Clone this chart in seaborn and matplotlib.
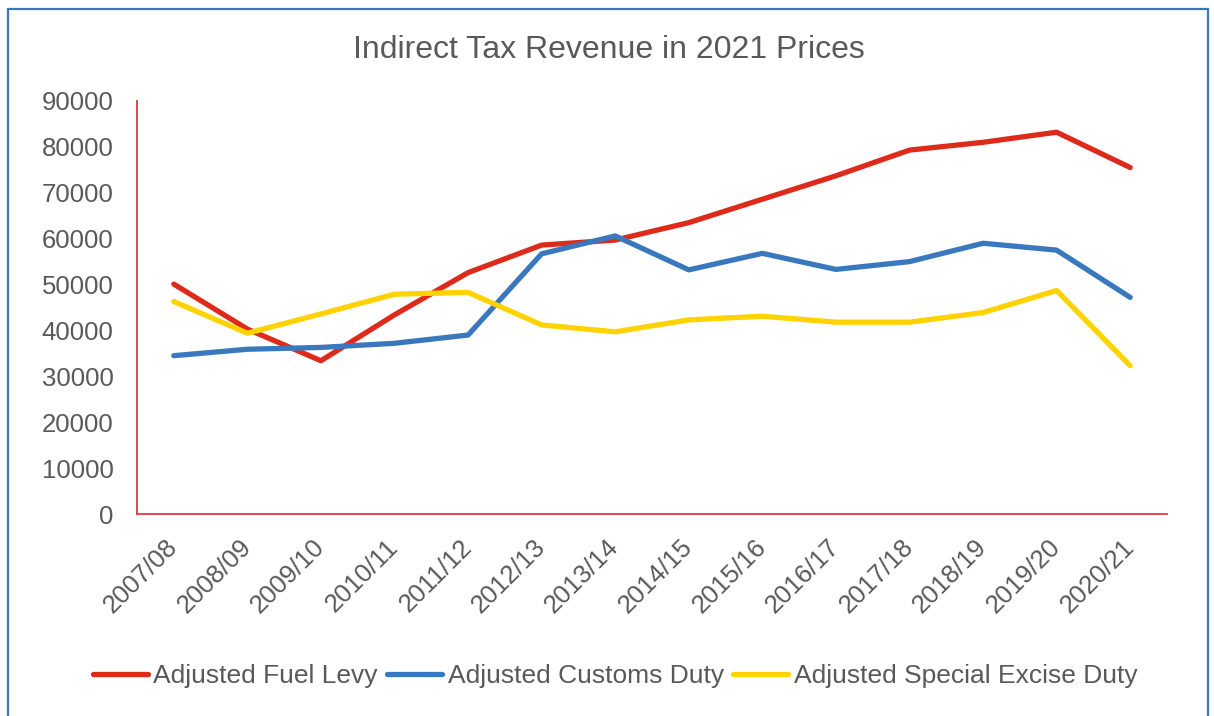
import matplotlib
matplotlib.use("Agg")
import matplotlib.pyplot as plt
from matplotlib.patches import Rectangle
import pandas as pd
import seaborn as sns

# data (R millions, 2021 prices)
years = ["2007/08", "2008/09", "2009/10", "2010/11", "2011/12", "2012/13", "2013/14",
         "2014/15", "2015/16", "2016/17", "2017/18", "2018/19", "2019/20", "2020/21"]
fuel_levy = [50100, 40300, 33400, 43400, 52600, 58600, 59700,
             63500, 68600, 73700, 79300, 81000, 83200, 75500]
customs_duty = [34500, 35900, 36300, 37200, 39000, 56700, 60600,
                53200, 56800, 53300, 55000, 59000, 57500, 47200]
excise_duty = [46300, 39400, 43600, 47900, 48300, 41200, 39700,
               42300, 43100, 41800, 41800, 43900, 48700, 32300]
series_names = ["Adjusted Fuel Levy", "Adjusted Customs Duty", "Adjusted Special Excise Duty"]
colors = ["#DE2A1B", "#3A78BE", "#FFD200"]
yticks = [0, 10000, 20000, 30000, 40000, 50000, 60000, 70000, 80000, 90000]

text_grey = "#595959"
axis_red = "#E03A3A"

df = pd.DataFrame({"year": years * 3,
                   "value": fuel_levy + customs_duty + excise_duty,
                   "series": [n for n in series_names for _ in years]})

sns.set_style("white")
plt.rcParams["font.family"] = ["Liberation Sans", "DejaVu Sans"]

fig = plt.figure(figsize=(12.14, 7.16), dpi=100)
ax = fig.add_axes([137 / 1214, 1 - 514 / 716, 1030 / 1214, 413 / 716])

sns.lineplot(data=df, x="year", y="value", hue="series", palette=colors,
             hue_order=series_names, sort=False, linewidth=3.8, ax=ax,
             legend=False)
for line in ax.lines:
    line.set_solid_capstyle("round")
    line.set_solid_joinstyle("round")

ax.set_xlim(-0.5, len(years) - 0.5)
ax.set_ylim(0, 90000)
ax.set_yticks(yticks)
ax.set_yticklabels([str(t) for t in yticks])
ax.set_xlabel("")
ax.set_ylabel("")

for side in ["top", "right"]:
    ax.spines[side].set_visible(False)
for side in ["left", "bottom"]:
    ax.spines[side].set_color(axis_red)
    ax.spines[side].set_linewidth(1.3)

ax.tick_params(axis="y", length=0, pad=17, labelsize=18.5, labelcolor=text_grey)
ax.tick_params(axis="x", length=0, pad=21, labelsize=18.5, labelcolor=text_grey)
for lab in ax.get_xticklabels():
    lab.set_rotation(45)
    lab.set_ha("right")
    lab.set_va("center")
    lab.set_rotation_mode("anchor")

fig.text(609 / 1214, 1 - 50 / 716, "Indirect Tax Revenue in 2021 Prices",
         ha="center", va="center", fontsize=23, color=text_grey)

handles = [plt.Line2D([], [], color=c, linewidth=3.8, solid_capstyle="round") for c in colors]
fig.legend(handles, series_names, loc="center", bbox_to_anchor=(615 / 1214, 1 - 676 / 716),
           ncol=3, frameon=False, fontsize=19, labelcolor=text_grey,
           handlelength=2.1, handletextpad=0.2, columnspacing=0.35)

# outer chart border (bottom edge is cut off in the original)
fig.patches.append(Rectangle((8 / 1214, -0.05), 1200 / 1214, 1.05 - 9 / 716,
                             transform=fig.transFigure, fill=False,
                             edgecolor="#3A75BD", linewidth=1.6))

fig.savefig("out.png", dpi=100)
